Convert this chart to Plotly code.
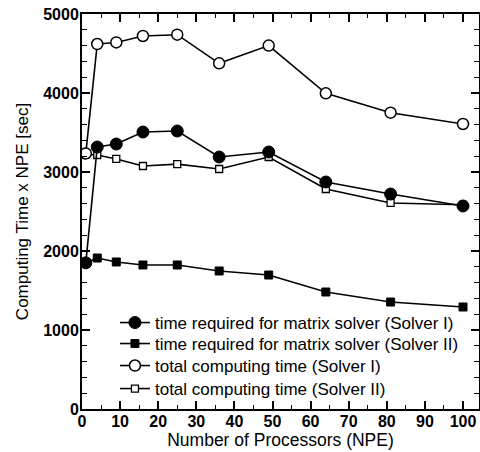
import plotly.graph_objects as go

npe = [1, 4, 9, 16, 25, 36, 49, 64, 81, 100]
matrix_solver1 = [1850, 3316, 3354, 3506, 3519, 3190, 3253, 2873, 2721, 2570]
matrix_solver2 = [1850, 1911, 1861, 1823, 1823, 1747, 1696, 1481, 1354, 1291]
total_solver1 = [3235, 4620, 4640, 4722, 4738, 4376, 4600, 3996, 3751, 3608]
total_solver2 = [3225, 3215, 3165, 3076, 3100, 3038, 3190, 2785, 2608, 2585]

names = [
    "time required for matrix solver (Solver I)",
    "time required for matrix solver (Solver II)",
    "total computing time (Solver I)",
    "total computing time (Solver II)",
]

styles = [
    (matrix_solver1, dict(symbol="circle", size=12, color="black", line=dict(color="black", width=1))),
    (matrix_solver2, dict(symbol="square", size=8, color="black", line=dict(color="black", width=1))),
    (total_solver1, dict(symbol="circle", size=11, color="white", line=dict(color="black", width=1.5))),
    (total_solver2, dict(symbol="square", size=7, color="white", line=dict(color="black", width=1.3))),
]
legend_ids = ["legend", "legend2", "legend3", "legend4"]

fig = go.Figure()
# draw open markers first so the filled ones sit on top (as in the reference)
for i in [3, 2, 1, 0]:
    vals, mk = styles[i]
    fig.add_trace(go.Scatter(
        x=npe, y=vals, mode="lines+markers", name=names[i],
        line=dict(color="black", width=1.6), marker=mk,
        legend=legend_ids[i],
    ))

axis_common = dict(
    showline=True, linecolor="black", linewidth=2, mirror="ticks",
    ticks="inside", tickcolor="black", tickwidth=1.5, ticklen=8,
    showgrid=False, zeroline=False, automargin=False,
    tickfont=dict(family="Liberation Sans, Arial", size=16, color="black", weight="bold"),
)

fig.update_xaxes(
    range=[0, 104.2], tick0=0, dtick=10, ticklabelstandoff=-3,
    minor=dict(ticks="inside", dtick=5, ticklen=4, tickcolor="black", tickwidth=1.2),
    title=dict(text="Number of Processors (NPE)", font=dict(family="Liberation Sans, Arial", size=17.5, color="black"), standoff=0),
    **axis_common,
)
fig.update_yaxes(
    range=[0, 5000], tick0=0, dtick=1000, ticklabelstandoff=-2,
    minor=dict(ticks="inside", dtick=200, ticklen=5, tickcolor="black", tickwidth=1.2),
    title=dict(text="Computing Time x NPE [sec]", font=dict(family="Liberation Sans, Arial", size=17, color="black"), standoff=10),
    **axis_common,
)

legend_font = dict(family="Liberation Sans, Arial", size=17, color="black")
legend_rows_y = [0.2177, 0.1646, 0.1089, 0.0506]
legend_layout = {}
for lid, ly in zip(legend_ids, legend_rows_y):
    legend_layout[lid] = dict(
        x=0.083, y=ly, xanchor="left", yanchor="middle",
        bgcolor="rgba(0,0,0,0)", font=legend_font,
    )

fig.update_layout(
    width=480, height=452,
    margin=dict(l=82, r=1, t=14, b=43),
    paper_bgcolor="white", plot_bgcolor="white",
    showlegend=True,
    **legend_layout,
)

fig.write_html(
    "out.html",
    config={"displayModeBar": False},
    post_script="document.body.style.margin='0';document.body.style.overflow='hidden';",
)
